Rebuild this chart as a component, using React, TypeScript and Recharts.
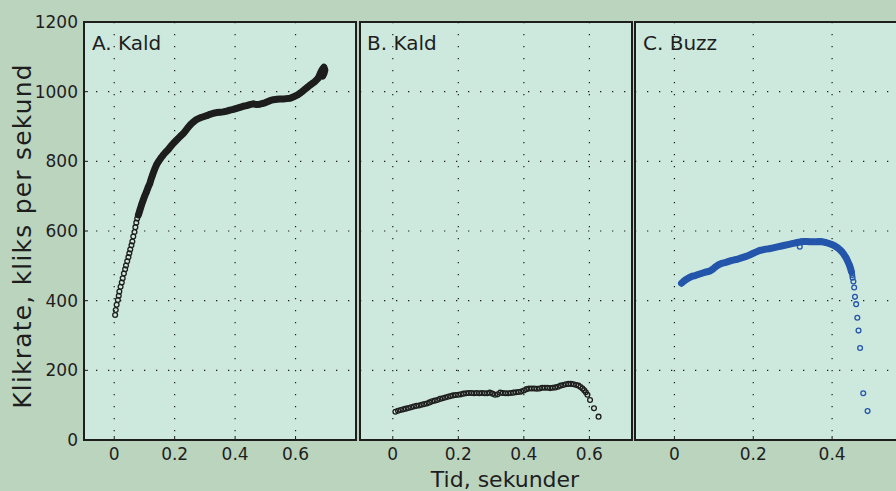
import React from 'react';
import { ScatterChart, Scatter, XAxis, YAxis, CartesianGrid } from 'recharts';

// ---------- data (time in s, click rate in clicks/s) ----------
const xTicks = [0, 0.2, 0.4, 0.6];
const xTicksC = [0, 0.2, 0.4];
const yTicks = [0, 200, 400, 600, 800, 1000, 1200];
const panelTitles = ['A. Kald', 'B. Kald', 'C. Buzz'];
const yTitle = 'Klikrate, kliks per sekund';
const xTitle = 'Tid, sekunder';

const kaldAStart: [number, number][] = [
  [0.003, 359], [0.005, 373], [0.008, 388], [0.012, 402], [0.015, 414], [0.017, 426],
  [0.021, 440], [0.025, 452], [0.028, 464], [0.032, 478], [0.036, 490], [0.039, 501],
  [0.043, 513], [0.047, 525], [0.05, 536], [0.053, 547], [0.057, 559], [0.06, 570],
  [0.063, 584], [0.067, 597], [0.07, 611], [0.073, 624], [0.076, 636],
];

const kaldADense: [number, number][] = [
  [0.08, 646], [0.085, 660], [0.09, 674], [0.096, 689], [0.101, 701], [0.107, 713],
  [0.112, 725], [0.118, 737], [0.122, 749], [0.127, 761], [0.131, 771], [0.135, 780],
  [0.14, 790], [0.146, 799], [0.154, 809], [0.162, 818], [0.17, 826], [0.179, 834],
  [0.187, 843], [0.196, 852], [0.204, 859], [0.212, 866], [0.22, 873], [0.229, 880],
  [0.237, 889], [0.245, 898], [0.253, 906], [0.262, 913], [0.272, 920], [0.284, 925],
  [0.295, 928], [0.306, 931], [0.317, 935], [0.328, 938], [0.339, 940], [0.35, 941],
  [0.361, 942], [0.372, 944], [0.383, 947], [0.394, 949], [0.405, 952], [0.416, 955],
  [0.427, 958], [0.438, 960], [0.449, 963], [0.46, 965], [0.471, 963], [0.482, 964],
  [0.49, 966], [0.499, 968], [0.507, 971], [0.515, 974], [0.527, 977], [0.538, 978],
  [0.549, 979], [0.56, 979], [0.571, 980], [0.582, 981], [0.59, 984], [0.598, 987],
  [0.607, 991], [0.615, 996], [0.623, 1001], [0.631, 1007], [0.64, 1013], [0.648, 1019],
  [0.656, 1024], [0.664, 1029], [0.67, 1034], [0.675, 1039], [0.679, 1046], [0.682, 1053],
  [0.686, 1060], [0.69, 1066], [0.694, 1070], [0.697, 1062], [0.694, 1052], [0.69, 1045],
];

const kaldB: [number, number][] = [
  [0.008, 81], [0.016, 84], [0.024, 86], [0.032, 88], [0.04, 90], [0.048, 92], [0.056, 94],
  [0.064, 96], [0.072, 98], [0.08, 99], [0.088, 101], [0.096, 103], [0.104, 105], [0.112, 108],
  [0.12, 111], [0.128, 113], [0.136, 115], [0.144, 118], [0.152, 120], [0.16, 122], [0.168, 124],
  [0.176, 126], [0.184, 128], [0.192, 129], [0.2, 130], [0.208, 131], [0.216, 133], [0.224, 134],
  [0.232, 135], [0.24, 135], [0.248, 134], [0.256, 135], [0.264, 134], [0.272, 135], [0.28, 134],
  [0.288, 134], [0.296, 136], [0.304, 133], [0.312, 130], [0.32, 131], [0.328, 136], [0.336, 135],
  [0.344, 134], [0.352, 134], [0.36, 135], [0.368, 136], [0.376, 137], [0.384, 138], [0.392, 139],
  [0.4, 142], [0.408, 146], [0.416, 148], [0.424, 148], [0.432, 148], [0.44, 147], [0.448, 148],
  [0.456, 150], [0.464, 150], [0.472, 150], [0.48, 149], [0.488, 150], [0.496, 151], [0.504, 153],
  [0.512, 156], [0.52, 158], [0.528, 160], [0.536, 161], [0.544, 161], [0.552, 160], [0.56, 158],
  [0.567, 156], [0.573, 152], [0.579, 148], [0.584, 143], [0.589, 137], [0.594, 130], [0.602, 115],
  [0.614, 91], [0.628, 67],
];

const buzzDense: [number, number][] = [
  [0.018, 450], [0.024, 456], [0.03, 461], [0.037, 466], [0.045, 470], [0.053, 472], [0.06, 475],
  [0.068, 478], [0.076, 481], [0.083, 483], [0.09, 485], [0.097, 490], [0.104, 497], [0.112, 503],
  [0.12, 507], [0.128, 509], [0.136, 512], [0.144, 515], [0.152, 517], [0.16, 519], [0.168, 522],
  [0.176, 525], [0.184, 528], [0.192, 532], [0.2, 536], [0.208, 540], [0.216, 544], [0.224, 546],
  [0.232, 548], [0.24, 549], [0.248, 551], [0.256, 553], [0.264, 555], [0.272, 557], [0.28, 559],
  [0.288, 561], [0.296, 563], [0.304, 565], [0.312, 567], [0.32, 569], [0.328, 570], [0.336, 570],
  [0.344, 569], [0.352, 569], [0.36, 569], [0.368, 570], [0.376, 569], [0.384, 567], [0.392, 564],
  [0.4, 561], [0.407, 557], [0.414, 552], [0.42, 546], [0.426, 539], [0.431, 531], [0.436, 522],
  [0.44, 512], [0.444, 502], [0.447, 492], [0.449, 483],
];

const buzzTail: [number, number][] = [
  [0.451, 474], [0.452, 466], [0.454, 455], [0.456, 438], [0.458, 411], [0.461, 390],
  [0.464, 351], [0.467, 314], [0.471, 264], [0.479, 134], [0.49, 83], [0.318, 555],
];

// ---------- styling ----------
const INK = '#1e1e1e';
const BLUE = '#2456ab';
const OUTER = '#bbd4be';
const PANEL = '#cde8dc';
const FONT = 'DejaVu Sans';
const PLOT_TOP = 22;
const PLOT_H = 418;
const PLOT_W = 272;

const toPts = (a: [number, number][]) => a.map(([t, r]) => ({ t, r }));

const fmt = (v: number) => String(v);

const bottomTick = (labels: boolean) => (p: any) => (
  <g>
    <line x1={p.x} x2={p.x} y1={p.y} y2={p.y - 4} stroke={INK} strokeWidth={1} />
    {labels && (
      <text x={p.x} y={p.y + 20} textAnchor="middle" fontSize={17} fontFamily={FONT} fill={INK}>
        {fmt(p.payload.value)}
      </text>
    )}
  </g>
);
const topTick = (p: any) => (
  <line x1={p.x} x2={p.x} y1={p.y} y2={p.y + 4} stroke={INK} strokeWidth={1} />
);
const leftTick = (labels: boolean) => (p: any) => (
  <g>
    <line x1={p.x} x2={p.x + 4} y1={p.y} y2={p.y} stroke={INK} strokeWidth={1} />
    {labels && (
      <text x={p.x - 6} y={p.y + 6} textAnchor="end" fontSize={17} fontFamily={FONT} fill={INK}>
        {fmt(p.payload.value)}
      </text>
    )}
  </g>
);
const rightTick = (p: any) => (
  <line x1={p.x} x2={p.x - 4} y1={p.y} y2={p.y} stroke={INK} strokeWidth={1} />
);

const circle = (color: string) => (p: any) => (
  <circle cx={p.cx} cy={p.cy} r={2.4} fill="none" stroke={color} strokeWidth={1.3} />
);

const axisLine = { stroke: INK, strokeWidth: 2 };

type PanelProps = {
  left: number;
  plotLeft: number;
  width: number;
  marginLeft: number;
  marginRight: number;
  yWidth: number;
  yLabels: boolean;
  domain: [number, number];
  ticks: number[];
  children: React.ReactNode;
};

function Panel({ left, plotLeft, width, marginLeft, marginRight, yWidth, yLabels, domain, ticks, children }: PanelProps) {
  return (
    <>
      <div
        style={{
          position: 'absolute',
          left: plotLeft,
          top: PLOT_TOP,
          width: PLOT_W,
          height: PLOT_H,
          background: PANEL,
        }}
      />
      <div style={{ position: 'absolute', left, top: 0 }}>
        <ScatterChart
          width={width}
          height={491}
          margin={{ top: PLOT_TOP, right: marginRight, bottom: 0, left: marginLeft }}
        >
          <CartesianGrid stroke={INK} strokeWidth={1.2} strokeDasharray="1.3 10.7" />
          <XAxis
            type="number"
            dataKey="t"
            domain={domain}
            ticks={ticks}
            allowDataOverflow
            height={51}
            tickSize={0}
            tickMargin={0}
            tickLine={false}
            axisLine={axisLine}
            tick={bottomTick(true)}
            interval={0}
          />
          <XAxis
            xAxisId="top"
            orientation="top"
            type="number"
            domain={domain}
            ticks={ticks}
            allowDataOverflow
            height={0}
            tickSize={0}
            tickMargin={0}
            tickLine={false}
            axisLine={axisLine}
            tick={topTick}
            interval={0}
          />
          <YAxis
            type="number"
            dataKey="r"
            domain={[0, 1200]}
            ticks={yTicks}
            allowDataOverflow
            width={yWidth}
            tickSize={0}
            tickMargin={0}
            tickLine={false}
            axisLine={axisLine}
            tick={leftTick(yLabels)}
            interval={0}
          />
          <YAxis
            yAxisId="right"
            orientation="right"
            type="number"
            domain={[0, 1200]}
            ticks={yTicks}
            allowDataOverflow
            width={0}
            tickSize={0}
            tickMargin={0}
            tickLine={false}
            axisLine={axisLine}
            tick={rightTick}
            interval={0}
          />
          {children}
        </ScatterChart>
      </div>
      <div
        style={{
          position: 'absolute',
          left: plotLeft - 1,
          top: PLOT_TOP - 1,
          width: PLOT_W + 2,
          height: PLOT_H + 2,
          border: `2px solid ${INK}`,
          boxSizing: 'border-box',
          pointerEvents: 'none',
        }}
      />
    </>
  );
}

export default function App() {
  return (
    <div
      style={{
        position: 'absolute',
        left: 0,
        top: 0,
        width: 896,
        height: 491,
        overflow: 'hidden',
        background: OUTER,
      }}
    >
      <Panel left={0} plotLeft={84} width={366} marginLeft={0} marginRight={10} yWidth={84} yLabels domain={[-0.1, 0.8]} ticks={xTicks}>
        <Scatter data={toPts(kaldAStart)} shape={circle(INK)} isAnimationActive={false} />
        <Scatter
          data={toPts(kaldADense)}
          shape={circle(INK)}
          line={{ stroke: INK, strokeWidth: 7, fill: 'none', strokeLinejoin: 'round', strokeLinecap: 'round' }}
          lineType="joint"
          isAnimationActive={false}
        />
      </Panel>
      <Panel left={350} plotLeft={360} width={292} marginLeft={10} marginRight={10} yWidth={0} yLabels={false} domain={[-0.1, 0.73]} ticks={xTicks}>
        <Scatter data={toPts(kaldB)} shape={circle(INK)} isAnimationActive={false} />
      </Panel>
      <Panel left={625} plotLeft={635} width={292} marginLeft={10} marginRight={10} yWidth={0} yLabels={false} domain={[-0.1, 0.59]} ticks={xTicksC}>
        <Scatter
          data={toPts(buzzDense)}
          shape={circle(BLUE)}
          line={{ stroke: BLUE, strokeWidth: 7, fill: 'none', strokeLinejoin: 'round', strokeLinecap: 'round' }}
          lineType="joint"
          isAnimationActive={false}
        />
        <Scatter data={toPts(buzzTail)} shape={circle(BLUE)} isAnimationActive={false} />
      </Panel>
      <svg
        width={896}
        height={491}
        style={{ position: 'absolute', left: 0, top: 0, pointerEvents: 'none' }}
      >
        <text x={92} y={50} fontSize={20} fontFamily={FONT} fill={INK}>{panelTitles[0]}</text>
        <text x={367} y={50} fontSize={20} fontFamily={FONT} fill={INK}>{panelTitles[1]}</text>
        <text x={643} y={50} fontSize={20} fontFamily={FONT} fill={INK}>{panelTitles[2]}</text>
        <text
          x={31}
          y={236}
          transform="rotate(-90 31 236)"
          textAnchor="middle"
          fontSize={25}
          letterSpacing={1.2}
          fontFamily={FONT}
          fill={INK}
        >
          {yTitle}
        </text>
        <text x={505} y={487} textAnchor="middle" fontSize={22} fontFamily={FONT} fill={INK}>
          {xTitle}
        </text>
      </svg>
    </div>
  );
}
